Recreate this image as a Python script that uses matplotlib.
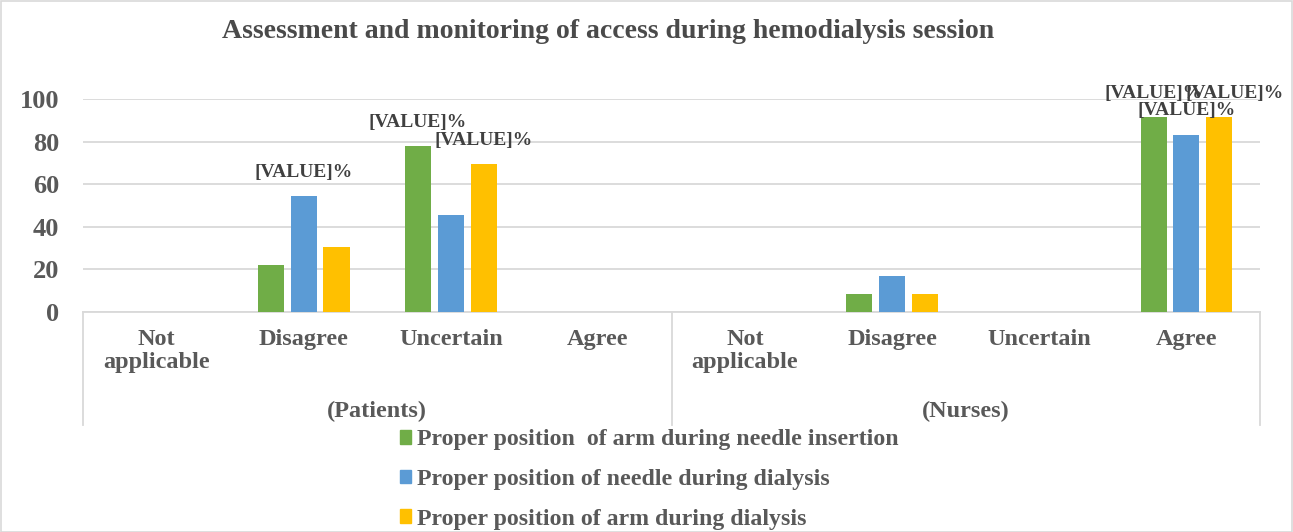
import numpy as np
import matplotlib
matplotlib.use("Agg")
import matplotlib.pyplot as plt
from matplotlib.patches import Rectangle, Patch

# data
groups = ['(Patients)', '(Nurses)']
categories = ['Not\napplicable', 'Disagree', 'Uncertain', 'Agree']
series = ['Proper position  of arm during needle insertion',
          'Proper position of needle during dialysis',
          'Proper position of arm during dialysis']
arm_insertion = [0, 22.2, 77.8, 0, 0, 8.3, 0, 91.7]
needle_dialysis = [0, 54.5, 45.5, 0, 0, 16.7, 0, 83.3]
arm_dialysis = [0, 30.5, 69.5, 0, 0, 8.3, 0, 91.7]
yticks = [0, 20, 40, 60, 80, 100]

colors = ['#70AD47', '#5B9BD5', '#FFC000']
txt = '#595959'
plt.rcParams['font.family'] = ['Liberation Serif', 'DejaVu Serif']
plt.rcParams['font.weight'] = 'bold'

fig = plt.figure(figsize=(12.93, 5.32), dpi=100)
ax = fig.add_axes([83/1293, 1-312/532, (1260-83)/1293, 213/532])

x = np.arange(len(arm_insertion))
w = 0.177
off = 0.223
vals = [arm_insertion, needle_dialysis, arm_dialysis]
for i, v in enumerate(vals):
    ax.bar(x + (i-1)*off, v, width=w, color=colors[i], zorder=3)

ax.set_xlim(-0.5, len(x)-0.5)
ax.set_ylim(0, 100)
ax.set_yticks(yticks)
ax.set_yticklabels([str(t) for t in yticks], fontsize=19, color=txt, fontweight='bold')
ax.tick_params(axis='y', length=0, pad=17)
ax.tick_params(axis='x', length=0, labelbottom=False)
ax.grid(axis='y', color='#D9D9D9', lw=1.3, zorder=0)
for s in ['top', 'right', 'left']:
    ax.spines[s].set_visible(False)
ax.spines['bottom'].set_color('#D9D9D9')
ax.spines['bottom'].set_linewidth(1.3)

# "[VALUE]%" labels (series index, category index, dx in points, dy in points)
lab = [(1, 1, 0, 17), (0, 2, 0, 17), (2, 2, 0, 17),
       (0, 7, 0, 17), (1, 7, 0, 17), (2, 7, 11, 17)]
for si, ci, dx, dy in lab:
    ax.annotate('[VALUE]%', (x[ci] + (si-1)*off, vals[si][ci]),
                xytext=(dx, dy), textcoords='offset points',
                ha='center', va='center', fontsize=14, color='#404040', fontweight='bold')

# two-level category axis
tr = ax.get_xaxis_transform()
ncat = len(categories)
for g, gname in enumerate(groups):
    for c, cname in enumerate(categories):
        ax.text(g*ncat + c, -0.08, cname, transform=tr, ha='center', va='top',
                fontsize=17.5, color=txt, fontweight='bold', linespacing=1.1)
    ax.text(g*ncat + (ncat-1)/2, -0.465, gname, transform=tr, ha='center', va='center',
            fontsize=17.5, color=txt, fontweight='bold')
for xv in [-0.5, ncat-0.5, 2*ncat-0.5]:
    ax.plot([xv, xv], [0, -0.53], transform=tr, color='#D9D9D9', lw=1.3, clip_on=False)

fig.text(608/1293, 1-31/532, 'Assessment and monitoring of access during hemodialysis session',
         ha='center', va='center', fontsize=20, color='#4a4a4a', fontweight='bold')

handles = [Patch(color=c) for c in colors]
fig.legend(handles, series, loc='upper left', bbox_to_anchor=(378/1293, 1-408/532),
           frameon=False, handlelength=0.5, handleheight=0.5,
           handletextpad=0.25, labelspacing=0.78, labelcolor=txt,
           prop={'weight': 'bold', 'size': 17.2})

fig.patches.append(Rectangle((0.5/1293, 0.5/532), 1-1.5/1293, 1-1.5/532, transform=fig.transFigure,
                             fill=False, edgecolor='#D9D9D9', lw=1.2))

fig.savefig('out.png', dpi=100)
